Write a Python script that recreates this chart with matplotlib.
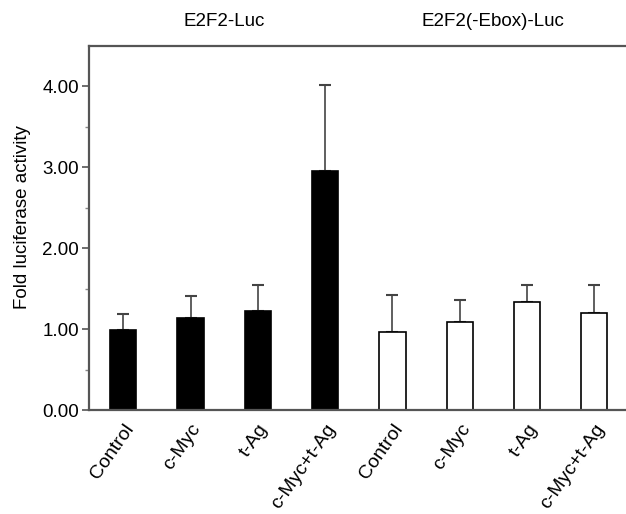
import matplotlib
matplotlib.use("Agg")
import matplotlib.pyplot as plt
import numpy as np

plt.rcParams['font.family'] = ['Liberation Sans', 'DejaVu Sans']

categories = ["Control", "c-Myc", "t-Ag", "c-Myc+t-Ag",
              "Control", "c-Myc", "t-Ag", "c-Myc+t-Ag"]
values = [0.99, 1.14, 1.23, 2.95, 0.97, 1.09, 1.34, 1.20]
errors = [0.20, 0.27, 0.31, 1.07, 0.45, 0.27, 0.21, 0.34]
groups = ["E2F2-Luc", "E2F2(-Ebox)-Luc"]
yticks = [0, 1, 2, 3, 4]
yticklabels = ["0.00", "1.00", "2.00", "3.00", "4.00"]

fig = plt.figure(figsize=(6.26, 5.14), dpi=100)
ax = fig.add_axes([0.142, 0.2023, 0.858, 0.7082])

x = np.arange(len(categories))
colors = ["black"] * 4 + ["white"] * 4
ax.bar(x, values, width=0.39, color=colors, edgecolor="black", linewidth=1.2, zorder=2)
ax.errorbar(x, values, yerr=[np.zeros(len(errors)), errors], fmt="none",
            ecolor="#444444", elinewidth=1.2, capsize=4, capthick=1.5, zorder=1)

ax.set_xlim(-0.51, 7.47)
ax.set_ylim(0, 4.5)
ax.set_yticks(yticks)
ax.set_yticklabels(yticklabels, fontsize=13.5)
ax.set_yticks(np.arange(0.5, 4.5, 1.0), minor=True)
ax.tick_params(axis='y', which='major', length=5, width=1.2, color="#555555", pad=2)
ax.tick_params(axis='y', which='minor', length=3, width=1.0, color="#888888")
ax.set_xticks(x)
ax.set_xticklabels(categories, rotation=55, ha="right", rotation_mode="anchor", fontsize=14)
ax.tick_params(axis='x', length=0, pad=8)

for s in ["left", "top", "bottom"]:
    ax.spines[s].set_color("#555555")
    ax.spines[s].set_linewidth(1.6)
ax.spines["right"].set_visible(False)

ax.set_ylabel("Fold luciferase activity", fontsize=13.5)
ax.yaxis.set_label_coords(-0.108, 0.53)

for i, g in enumerate(groups):
    cx = x[i * 4:(i + 1) * 4].mean()
    ax.text(cx, 1.067, g, transform=ax.get_xaxis_transform(), ha="center", va="center", fontsize=13.5)

fig.savefig("out.png", dpi=100)
